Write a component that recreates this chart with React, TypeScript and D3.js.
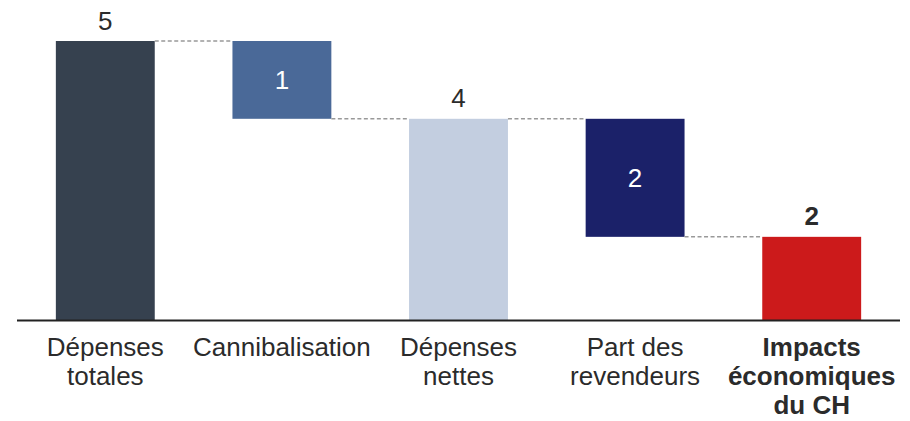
import React from "react";
import * as d3 from "d3";

const categories: string[][] = [
  ["Dépenses", "totales"],
  ["Cannibalisation"],
  ["Dépenses", "nettes"],
  ["Part des", "revendeurs"],
  ["Impacts", "économiques", "du CH"],
];
const values: number[] = [5.2, -1.45, 3.75, -2.2, 1.55];
const kinds: string[] = ["total", "delta", "total", "delta", "total"];
const colors: string[] = ["#36414F", "#4A6998", "#C3CEE0", "#1B2169", "#CC1A1B"];

const W = 910;
const H = 421;
const FONT = "'Liberation Sans', Arial, sans-serif";

export default function App() {
  const x = d3
    .scaleBand<number>()
    .domain(categories.map((_, i) => i))
    .range([17, 900])
    .paddingInner(0.44)
    .paddingOuter(0.22);
  const y = d3.scaleLinear().domain([0, 5.2]).range([320, 41]);
  const fmt = d3.format(".0f");

  let running = 0;
  const segs = values.map((v, i) => {
    let lo: number, hi: number;
    if (kinds[i] === "total") {
      lo = 0;
      hi = v;
      running = v;
    } else {
      hi = running;
      lo = running + v;
      running = lo;
    }
    return { lo, hi, v, i, end: running };
  });

  return (
    <svg
      width={W}
      height={H}
      style={{ position: "absolute", left: 0, top: 0, background: "#fff" }}
      fontFamily={FONT}
    >
      {segs.map((s) => (
        <rect
          key={"b" + s.i}
          x={x(s.i)}
          y={y(s.hi)}
          width={x.bandwidth()}
          height={y(s.lo) - y(s.hi)}
          fill={colors[s.i]}
        />
      ))}
      {segs.slice(0, -1).map((s) => (
        <line
          key={"c" + s.i}
          x1={(x(s.i) as number) + x.bandwidth()}
          x2={x(s.i + 1) as number}
          y1={y(s.end)}
          y2={y(s.end)}
          stroke="#999999"
          strokeWidth={1.5}
          strokeDasharray="4,2.5"
        />
      ))}
      <line x1={17} x2={900} y1={320.5} y2={320.5} stroke="#222" strokeWidth={2} />
      {segs.map((s) => {
        const cx = (x(s.i) as number) + x.bandwidth() / 2;
        if (kinds[s.i] === "total") {
          return (
            <text
              key={"v" + s.i}
              x={cx}
              y={y(s.hi) - 11.5}
              textAnchor="middle"
              fontSize={26}
              fill="#2B2B2B"
              fontWeight={s.i === values.length - 1 ? "bold" : "normal"}
            >
              {fmt(Math.abs(s.v))}
            </text>
          );
        }
        return (
          <text
            key={"v" + s.i}
            x={cx}
            y={(y(s.hi) + y(s.lo)) / 2 + 9.5}
            textAnchor="middle"
            fontSize={26}
            fill="#FFFFFF"
          >
            {fmt(Math.abs(s.v))}
          </text>
        );
      })}
      {categories.map((lines, i) => {
        const cx = (x(i) as number) + x.bandwidth() / 2;
        return (
          <text
            key={"l" + i}
            x={cx}
            y={356}
            textAnchor="middle"
            fontSize={26}
            fill="#2B2B2B"
            fontWeight={i === categories.length - 1 ? "bold" : "normal"}
          >
            {lines.map((ln, j) => (
              <tspan key={j} x={cx} y={356 + j * 29}>
                {ln}
              </tspan>
            ))}
          </text>
        );
      })}
    </svg>
  );
}
